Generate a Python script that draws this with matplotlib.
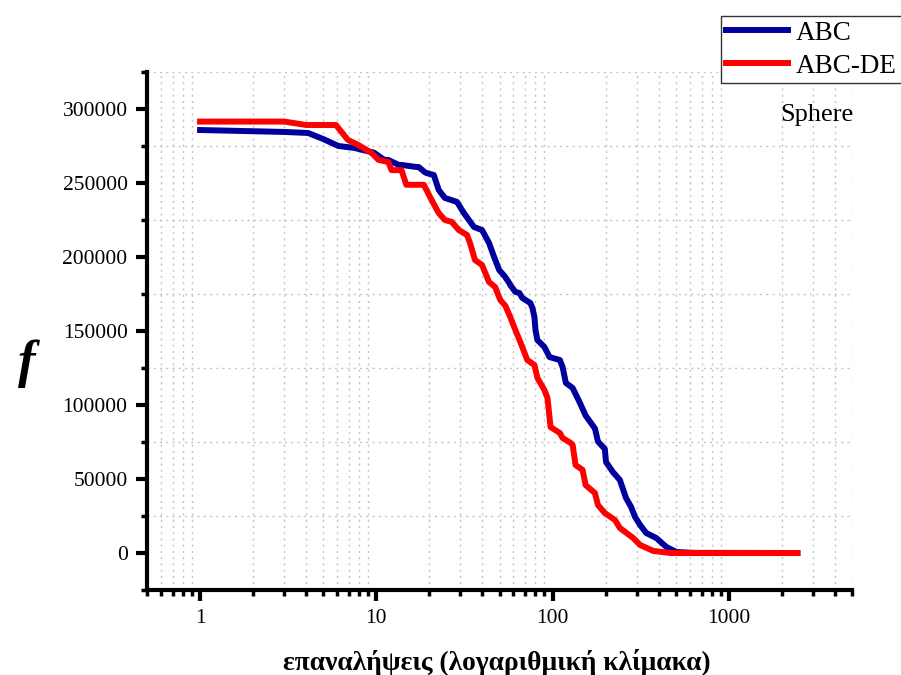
import numpy as np
import matplotlib
matplotlib.use('Agg')
import matplotlib.pyplot as plt
from matplotlib.ticker import MultipleLocator, FuncFormatter, LogLocator

plt.rcParams['font.family'] = ['Liberation Serif', 'DejaVu Serif']

# ABC curve (iterations, f)
abc_x = [1, 3, 4.1, 5.0, 6.1, 7.5, 9.7, 11.1, 11.7, 13.4, 13.9, 16.9, 17.4, 18.8, 19.3, 21.2, 22.6,
         24.5, 28.7, 31.4, 35.8, 39.8, 43.6, 46.6, 49.8, 53.5, 56.8, 57.5, 61.5, 64.8, 67.4, 74.8,
         76.9, 78.9, 80, 82, 89.9, 96.1, 110, 114, 119, 130, 143, 154, 174, 181, 198, 201, 220,
         241, 261, 279, 294, 314, 340, 388, 442, 504, 631, 2450]
abc_f = [285800, 284500, 283800, 279700, 275000, 273700, 270500, 265600, 265600, 262200, 262200,
         260800, 260800, 257400, 256700, 255400, 245300, 239900, 237200, 229700, 220300, 218200,
         209500, 200000, 191200, 187000, 182400, 181100, 176400, 175700, 172300, 168900, 165500,
         159500, 150700, 143900, 139200, 132400, 130400, 125700, 114900, 111500, 101400, 92900,
         84100, 75300, 70300, 61500, 54700, 49300, 37200, 31100, 24300, 18900, 13500, 10100,
         4100, 700, 100, 0]

# ABC-DE curve
de_x = [1, 3, 4, 5.9, 6.9, 7.9, 9.4, 10.3, 11.7, 12.2, 13.9, 14.8, 18.6, 20.6, 22.6, 24.5, 26.8,
        29.4, 32.7, 34.0, 36.3, 39.8, 43.6, 47.2, 50.5, 54, 57.5, 61.5, 65.6, 71.9, 78.9, 82.1,
        89.9, 93.6, 97.4, 110, 114, 127, 130, 135, 148, 154, 174, 181, 198, 226, 241, 287, 314,
        373, 466, 2450]
de_f = [291500, 291500, 289200, 289200, 279100, 275700, 270300, 265600, 264200, 258700, 258700,
        248800, 248800, 238500, 229700, 225000, 223700, 218200, 214900, 209500, 198000, 194600,
        183100, 179700, 171000, 167000, 159500, 150700, 142600, 130400, 127000, 118200, 110100,
        104700, 85100, 81100, 77700, 74300, 73000, 59500, 56100, 45900, 40500, 32400, 27000,
        22300, 16900, 10100, 5400, 1400, 0, 0]

fig = plt.figure(figsize=(9.01, 6.75), dpi=100)
ax = fig.add_axes([147/901, 85/675, 705/901, 518/675])

ax.plot(abc_x, abc_f, color='#00009c', lw=4.3, label='ABC')
ax.plot(de_x, de_f, color='#ff0000', lw=4.3, label='ABC-DE')

ax.set_xscale('log')
ax.set_xlim(0.5, 5000)
ax.set_ylim(-25000, 325000)

ax.xaxis.set_major_locator(LogLocator(base=10))
ax.xaxis.set_minor_locator(LogLocator(base=10, subs=np.arange(2, 10)))
ax.xaxis.set_major_formatter(FuncFormatter(lambda v, p: f'{v:g}'))
ax.yaxis.set_major_locator(MultipleLocator(50000))
ax.yaxis.set_minor_locator(MultipleLocator(25000))
ax.yaxis.set_major_formatter(FuncFormatter(lambda v, p: f'{int(v)}'))

for s in ['top', 'right']:
    ax.spines[s].set_visible(False)
for s in ['left', 'bottom']:
    ax.spines[s].set_linewidth(3)

ax.tick_params(which='major', direction='out', length=8, width=3, labelsize=15.5, pad=6)
ax.tick_params(which='minor', direction='out', length=4, width=2.5)

ax.grid(which='minor', linestyle=(0, (1.5, 3)), color='#c4c4c4', lw=1)
ax.grid(which='major', visible=False)

ax.legend(loc='upper left', bbox_to_anchor=(721/901, 1 - 16/675), bbox_transform=fig.transFigure,
          borderaxespad=0, fontsize=19.5, fancybox=False, edgecolor='#333333', framealpha=1,
          handlelength=2.3, handletextpad=0.3, labelspacing=0.3, borderpad=0.17)

fig.text(817/901, 1 - 115/675, 'Sphere', fontsize=19, ha='center', va='center')
fig.text(27/901, 1 - 364/675, 'f', fontsize=38, fontweight='bold', fontstyle='italic',
         ha='center', va='center')
fig.text(497/901, 1 - 663/675, 'επαναλήψεις (λογαριθμική κλίμακα)', fontsize=19.8,
         fontweight='bold', ha='center', va='center')

fig.savefig('out.png', dpi=100)
